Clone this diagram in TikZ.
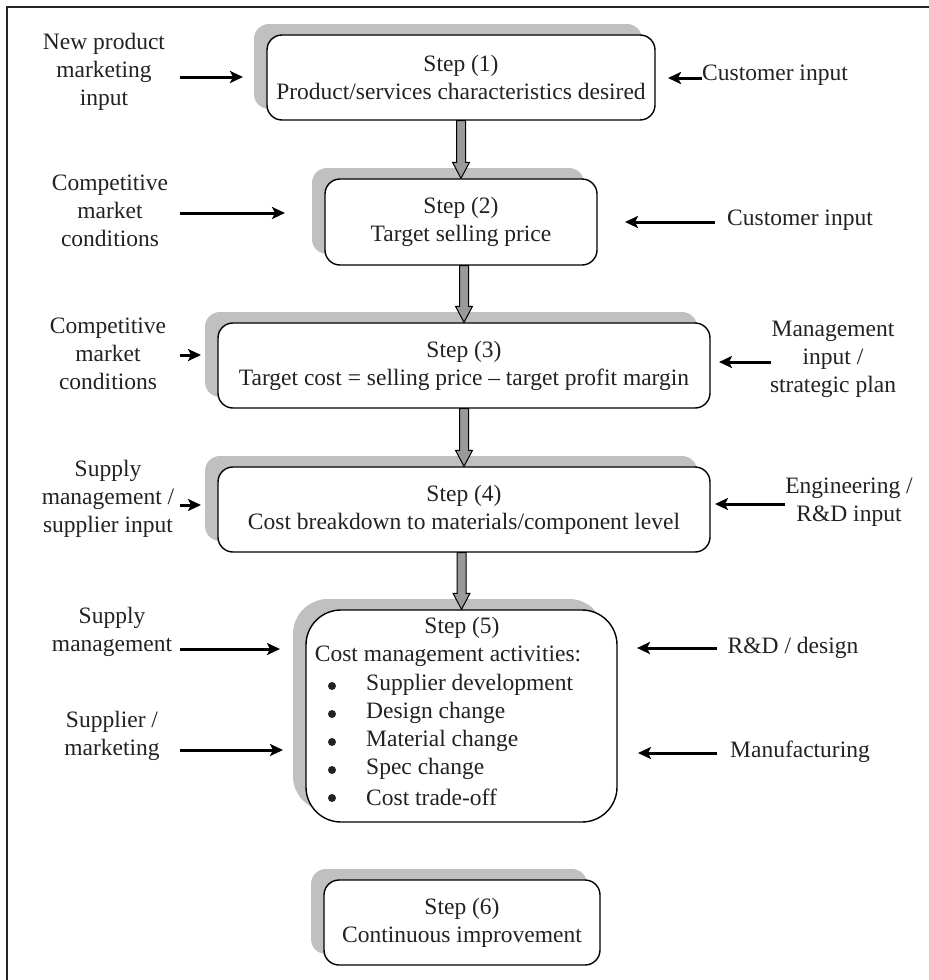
\documentclass[tikz,border=0pt]{standalone}
\usepackage{fontspec}
\setmainfont{Liberation Serif}
\usetikzlibrary{arrows.meta,shadows,calc}
\definecolor{shadowgray}{HTML}{C0C0C0}
\definecolor{arrowgray}{HTML}{9A9A9A}
\definecolor{ink}{HTML}{222222}
\begin{document}
\begin{tikzpicture}[x=1pt,y=-1pt,
  every node/.style={font=\fontsize{23.5}{28}\selectfont, text=ink},
  stepbox/.style={draw=black, line width=1.4pt, rounded corners=15pt, fill=white, inner sep=0pt, align=center,
    copy shadow={shadow xshift=-13pt, shadow yshift=11pt, fill=shadowgray, draw=none}},
  arr/.style={line width=3pt, draw=black, -{Stealth[length=13pt,width=12pt,inset=3pt]}},
  fat/.style={line width=1pt, draw=black, fill=arrowgray},
  dot/.style={circle, fill=ink, minimum size=8pt, inner sep=0pt},
  lbl/.style={align=center, inner sep=0pt}]
\useasboundingbox (0,0) rectangle (929,980);
\fill[white] (0,0) rectangle (929,980);
\draw[line width=1.5pt, black!85] (7,980) -- (7,7) -- (929,7);

% boxes
\node[stepbox, minimum width=388pt, minimum height=85pt] (s1) at (461,77.5) {Step (1)\\Product/services characteristics desired};
\node[stepbox, minimum width=272pt, minimum height=86pt] (s2) at (461,222) {Step (2)\\Target selling price};
\node[stepbox, minimum width=492pt, minimum height=85pt] (s3) at (464,365.5) {Step (3)\\Target cost = selling price -- target profit margin};
\node[stepbox, minimum width=492pt, minimum height=85pt] (s4) at (464,509.5) {Step (4)\\Cost breakdown to materials/component level};
\node[stepbox, rounded corners=35pt, minimum width=311pt, minimum height=212pt] (s5) at (461.5,716) {};
\node[stepbox, minimum width=276pt, minimum height=85pt] (s6) at (462,922.5) {Step (6)\\Continuous improvement};

% box 5 contents
\node[lbl] (t5a) at (462,628) {Step (5)};
\node[lbl] (t5b) at (448,656) {Cost management activities:};
\foreach \y/\t [count=\i] in {685/Supplier development,713/Design change,741/Material change,769/Spec change,797/Cost trade-off}{
  \node[dot] (b\i) at (332,\y+1) {};
  \node[lbl, anchor=west] (i\i) at (366,\y) {\t};
}

% fat arrows between steps
\foreach \a/\b in {s1/s2,s2/s3,s3/s4,s4/s5}{
  \draw[fat] ($(\a.south -| \b.north)+(-4.5,0)$) -- ($(\b.north)+(-4.5,-16)$) -- ($(\b.north)+(-8.5,-16)$)
    -- (\b.north) -- ($(\b.north)+(8.5,-16)$) -- ($(\b.north)+(4.5,-16)$) -- ($(\a.south -| \b.north)+(4.5,0)$) -- cycle;
}

% left labels
\node[lbl] (L1) at (104,72) {New product\\marketing\\input};
\node[lbl] (L2) at (110,211) {Competitive\\market\\conditions};
\node[lbl] (L3) at (108,354) {Competitive\\market\\conditions};
\node[lbl] (L4) at (108,499) {Supply\\management /\\supplier input};
\node[lbl] (L5) at (112,632) {Supply\\management};
\node[lbl] (L6) at (112,736) {Supplier /\\marketing};

% right labels
\node[lbl] (R1) at (775,75) {Customer input};
\node[lbl] (R2) at (800,220) {Customer input};
\node[lbl] (R3) at (833,359) {Management\\input /\\strategic plan};
\node[lbl] (R4) at (849,502) {Engineering /\\R\&D input};
\node[lbl] (R5) at (793,648) {R\&D / design};
\node[lbl] (R6) at (800,752) {Manufacturing};

% arrow end points
\coordinate (a1s) at (180,77);  \coordinate (a1e) at (243,77);
\coordinate (b1s) at (702,78);  \coordinate (b1e) at (668,78);
\coordinate (a2s) at (180,213); \coordinate (a2e) at (285,213);
\coordinate (b2s) at (715,222); \coordinate (b2e) at (625,222);
\coordinate (a3s) at (180,355); \coordinate (a3e) at (201,355);
\coordinate (b3s) at (771,362); \coordinate (b3e) at (719,362);
\coordinate (a4s) at (180,505); \coordinate (a4e) at (201,505);
\coordinate (b4s) at (785,504); \coordinate (b4e) at (715,504);
\coordinate (a5s) at (180,649); \coordinate (a5e) at (280,649);
\coordinate (a6s) at (180,750); \coordinate (a6e) at (283,750);
\coordinate (b5s) at (717,648); \coordinate (b5e) at (637,648);
\coordinate (b6s) at (717,753); \coordinate (b6e) at (638,753);
\foreach \p in {a1,b1,a2,b2,a3,b3,a4,b4,a5,a6,b5,b6}{
  \draw[arr] (\p s) -- (\p e);
}
\end{tikzpicture}
\end{document}
